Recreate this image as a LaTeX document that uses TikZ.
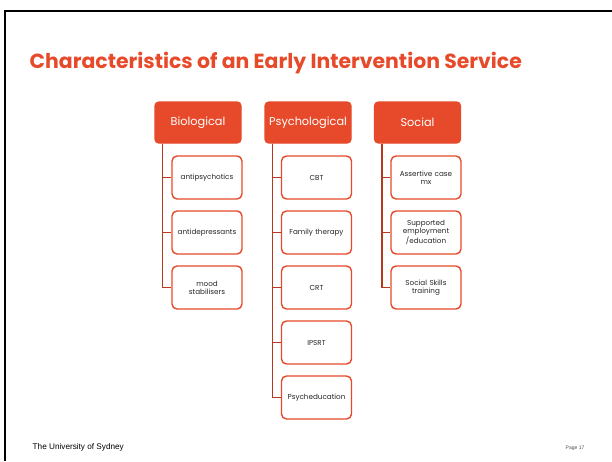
\documentclass[tikz,border=0pt]{standalone}
\usepackage{fontspec}
\setmainfont{Poppins}
\newfontfamily\footfont{Liberation Sans}
\definecolor{slidered}{HTML}{E64A2A}
\definecolor{linkred}{HTML}{B5381E}
\definecolor{boxtext}{HTML}{262626}
\begin{document}
\begin{tikzpicture}[x=1pt, y=-1pt,
    every path/.style={line width=1.4pt},
    head/.style={fill=slidered, draw=slidered, rounded corners=4pt, minimum width=86pt, minimum height=41pt, inner sep=0pt, text=white, font=\fontsize{11.3}{13}\selectfont},
    item/.style={fill=white, draw=slidered, rounded corners=5pt, minimum width=70pt, minimum height=43pt, inner sep=1pt, text width=68pt, align=center, text=boxtext, font=\fontsize{7.2}{8.2}\selectfont},
    link/.style={draw=linkred}]

            \useasboundingbox (0,0) rectangle (612,461);

            % Slide frame
            \draw[line width=2pt] (5,461) -- (5,11) -- (612,11);

            % Title
            \node[anchor=base west, inner sep=0pt, text=slidered, font=\fontsize{20.4}{22}\selectfont\bfseries] (Title) at (29,68) {Characteristics of an Early Intervention Service};

            % Nodes
            \node[head] at (198,122.5) (Bio) {Biological};
            \node[head] at (308,122.5) (Psy) {Psychological};
            \node[head] at (417.5,122.5) (Soc) {Social};

            \node[item] at (207,177.5) (B1) {antipsychotics};
            \node[item] at (207,232.5) (B2) {antidepressants};
            \node[item] at (207,287.5) (B3) {mood\\stabilisers};

            \node[item] at (316.5,177.5) (P1) {CBT};
            \node[item] at (316.5,232.5) (P2) {Family therapy};
            \node[item] at (316.5,287.5) (P3) {CRT};
            \node[item] at (316.5,342.5) (P4) {IPSRT};
            \node[item] at (316.5,397.5) (P5) {Psycheducation};

            \node[item] at (426,177.5) (S1) {Assertive case\\mx};
            \node[item] at (426,232.5) (S2) {Supported\\employment\\/education};
            \node[item] at (426,287.5) (S3) {Social Skills\\training};

            % Lines
            \draw[link] (Bio.south west) ++(8,0) |- (B1.west);
            \draw[link] (Bio.south west) ++(8,0) |- (B2.west);
            \draw[link] (Bio.south west) ++(8,0) |- (B3.west);

            \draw[link] (Psy.south west) ++(8,0) |- (P1.west);
            \draw[link] (Psy.south west) ++(8,0) |- (P2.west);
            \draw[link] (Psy.south west) ++(8,0) |- (P3.west);
            \draw[link] (Psy.south west) ++(8,0) |- (P4.west);
            \draw[link] (Psy.south west) ++(8,0) |- (P5.west);

            \draw[link] (Soc.south west) ++(8,0) |- (S1.west);
            \draw[link] (Soc.south west) ++(8,0) |- (S2.west);
            \draw[link] (Soc.south west) ++(8,0) |- (S3.west);

            % Footer
            \node[anchor=base west, inner sep=0pt, font=\footfont\fontsize{8.2}{9}\selectfont] (Uni) at (32,449) {The University of Sydney};
            \node[anchor=base west, inner sep=0pt, text=black!70, font=\footfont\fontsize{5}{6}\selectfont] (Page) at (565,449) {Page 17};

        \end{tikzpicture}
\end{document}
